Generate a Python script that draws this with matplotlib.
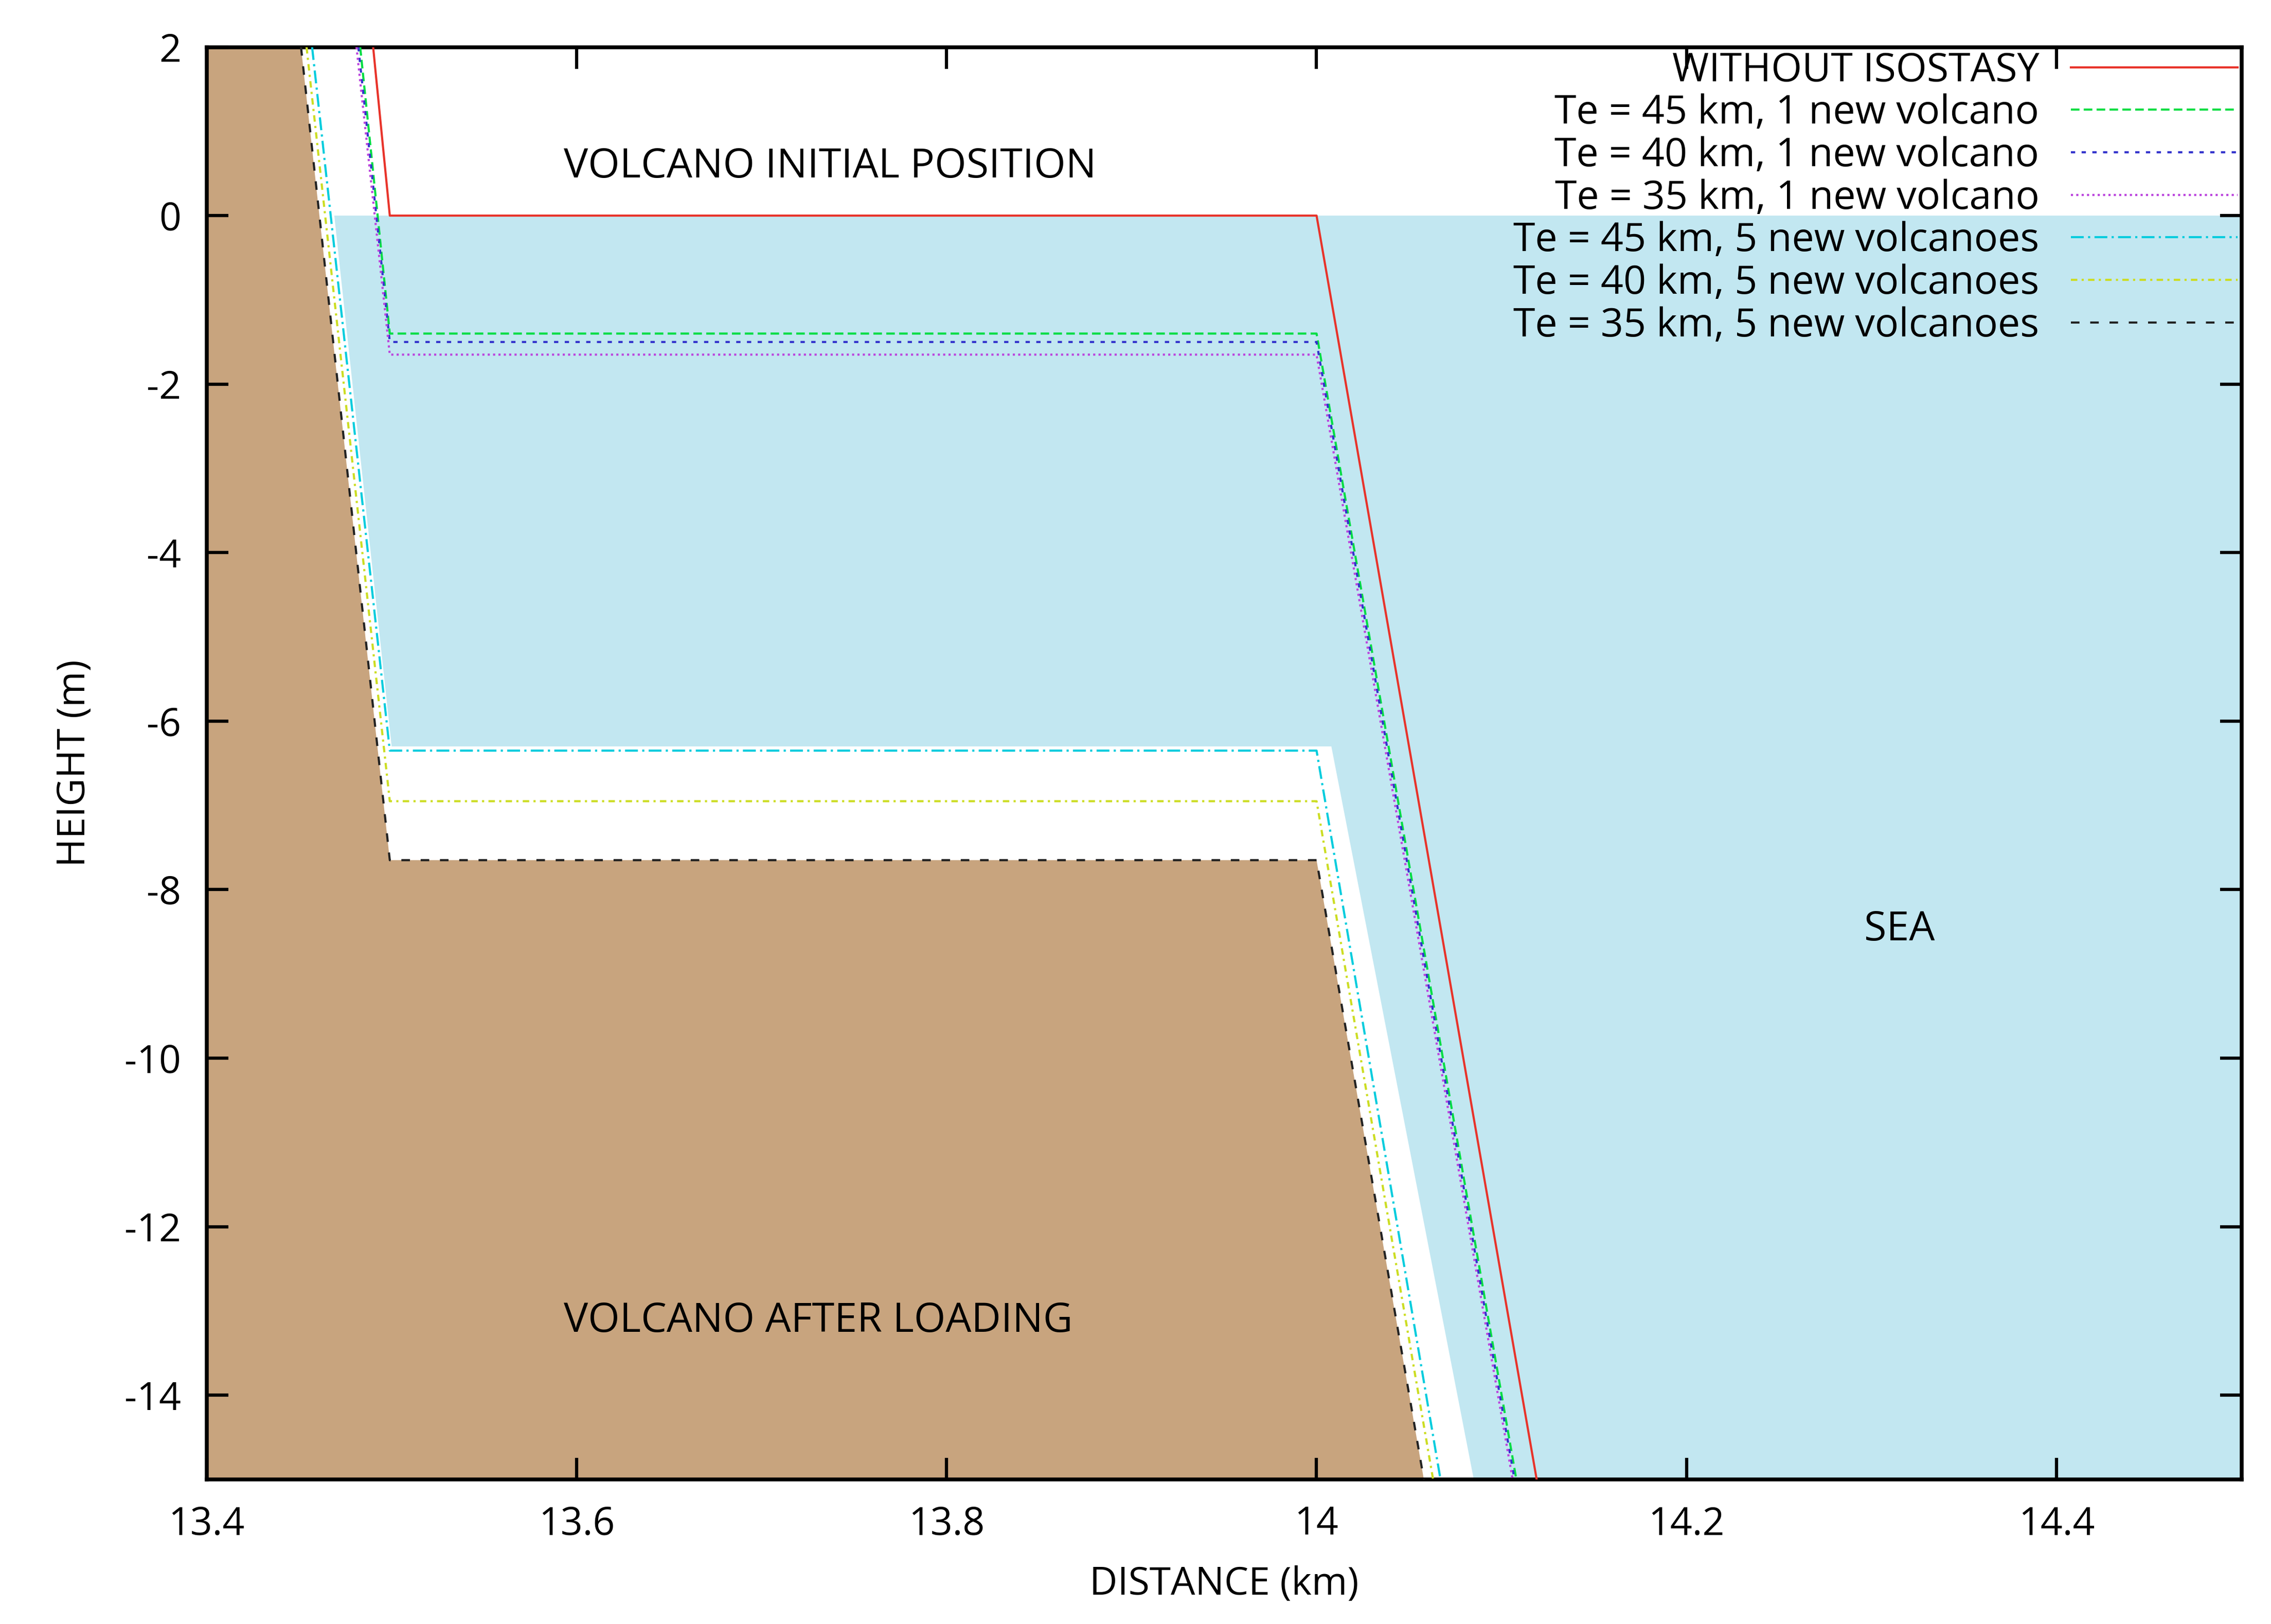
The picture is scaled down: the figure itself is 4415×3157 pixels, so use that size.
import matplotlib
matplotlib.use("Agg")
import matplotlib.pyplot as plt

plt.rcParams['font.family'] = ['Open Sans', 'DejaVu Sans']
plt.rcParams['axes.unicode_minus'] = False

labels = ["WITHOUT ISOSTASY", "Te = 45 km, 1 new volcano", "Te = 40 km, 1 new volcano",
          "Te = 35 km, 1 new volcano", "Te = 45 km, 5 new volcanoes",
          "Te = 40 km, 5 new volcanoes", "Te = 35 km, 5 new volcanoes"]
top_x = [13.490, 13.483, 13.482, 13.481, 13.457, 13.454, 13.451]
corner_x = [13.499, 13.499, 13.499, 13.499, 13.499, 13.499, 13.499]
plateau = [0.0, -1.4, -1.5, -1.65, -6.35, -6.95, -7.65]
edge_x = [14.0, 14.0, 14.0, 14.0, 14.0, 14.0, 14.0]
bottom_x = [14.119, 14.108, 14.107, 14.106, 14.067, 14.063, 14.058]
colors = ["#e8332a", "#00dd44", "#3333cc", "#bb44dd", "#00ccdd", "#ccdd22", "#222222"]
styles = ["-", (0, (4, 2)), (0, (2, 3)), (0, (1, 1.5)), (0, (6, 2, 1, 2)), (0, (3, 2, 1, 2)), (0, (4, 5))]

sea_x = [13.469, 13.500, 14.008, 14.085]
sea_y = [0.0, -6.3, -6.3, -15.0]

fig = plt.figure(figsize=(4415/300, 3157/300), dpi=300)
ax = fig.add_axes([0.091, 0.089, 0.896, 0.882])
ax.set_xlim(13.4, 14.5)
ax.set_ylim(-15, 2)

ax.fill([sea_x[0]] + sea_x + [14.5, 14.5], [sea_y[0]] + sea_y + [-15, 0], color="#c2e7f1", lw=0, zorder=0)
i = 6
ax.fill([13.4, top_x[i], corner_x[i], edge_x[i], bottom_x[i], 13.4],
        [2, 2, plateau[i], plateau[i], -15, -15], color="#c8a47e", lw=0, zorder=1)

for k in range(len(labels)):
    ax.plot([top_x[k], corner_x[k], edge_x[k], bottom_x[k]],
            [2, plateau[k], plateau[k], -15], color=colors[k], ls=styles[k], lw=1.0,
            label=labels[k], zorder=3)

ax.text(13.593, 0.45, "VOLCANO INITIAL POSITION", ha="left", fontsize=19)
ax.text(13.593, -13.25, "VOLCANO AFTER LOADING", ha="left", fontsize=19)
ax.text(14.315, -8.6, "SEA", ha="center", fontsize=19)

ax.set_xticks([13.4, 13.6, 13.8, 14.0, 14.2, 14.4])
ax.set_xticklabels(["13.4", "13.6", "13.8", "14", "14.2", "14.4"])
ax.set_yticks(range(-14, 3, 2))
ax.tick_params(direction="in", top=True, right=True, length=10, width=1.5, labelsize=18, pad=12)
for s in ax.spines.values():
    s.set_linewidth(1.8)
ax.set_xlabel("DISTANCE (km)", fontsize=18, labelpad=10)
ax.set_ylabel("HEIGHT (m)", fontsize=18, labelpad=14)

leg = ax.legend(loc="upper right", frameon=False, fontsize=18.5, markerfirst=False,
                handlelength=4.2, labelspacing=0.08, borderaxespad=0.0, borderpad=0.1)

fig.savefig("out.png", dpi=300)
